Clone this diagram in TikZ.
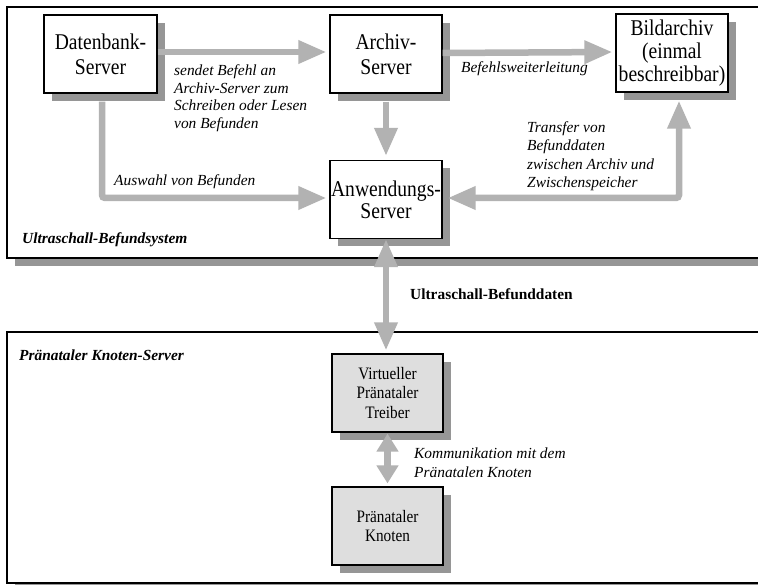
\documentclass[tikz,border=0pt]{standalone}
\usepackage{fontspec}
\setmainfont{Liberation Serif}
\newfontfamily\nodefont[FakeStretch=0.87]{Liberation Serif}
\usetikzlibrary{arrows.meta,shadows}
\definecolor{arrowgray}{RGB}{178,178,178}
\definecolor{shadowgray}{RGB}{150,150,150}
\definecolor{boxfill}{RGB}{222,222,222}
\begin{document}
\begin{tikzpicture}[x=1pt,y=-1pt,
  shd/.style={drop shadow={shadow xshift=8pt, shadow yshift=-8pt, fill=shadowgray, opacity=1}},
  container/.style={draw=black, line width=1.3pt, fill=white, shd, minimum width=768pt, minimum height=251pt, inner sep=0pt},
  box/.style={draw=black, line width=1.2pt, fill=white, shd, minimum width=113pt, minimum height=78pt, inner sep=0pt, align=center, font=\nodefont\fontsize{22.5}{25}\selectfont},
  smallbox/.style={box, fill=boxfill, minimum width=111pt, font=\nodefont\fontsize{17.5}{19.5}\selectfont},
  lbl/.style={anchor=west, inner sep=0pt, align=left, font=\itshape\fontsize{15.4}{17.5}\selectfont},
  blbl/.style={anchor=west, inner sep=0pt, align=left, font=\bfseries\itshape\fontsize{15.4}{17.5}\selectfont},
  big/.style={draw=arrowgray, line width=6.5pt, rounded corners=3pt, -{Triangle[length=28pt,width=22pt]}},
  bigboth/.style={draw=arrowgray, line width=6.5pt, rounded corners=3pt, {Triangle[length=28pt,width=22pt]}-{Triangle[length=28pt,width=22pt]}},
  smallboth/.style={draw=arrowgray, line width=6.5pt, {Triangle[length=18pt,width=21pt]}-{Triangle[length=18pt,width=21pt]}}
]
\clip (0,0) rectangle (758,585);
\useasboundingbox (0,0) rectangle (758,585);

% containers
\node[container] (sys) at (391,132.5) {};
\node[container] (pns) at (391,457.5) {};

% nodes
\node[box] (db) at (100.5,54) {Datenbank-\\Server};
\node[box, minimum width=112pt] (ar) at (386,54) {Archiv-\\Server};
\node[box, minimum width=112pt, font=\nodefont\fontsize{22.5}{23}\selectfont] (bild) at (672,53) {Bildarchiv\\(einmal\\beschreibbar)};
\node[box, minimum width=112pt, font=\nodefont\fontsize{22.5}{22}\selectfont] (anw) at (386,199.5) {Anwendungs-\\Server};
\node[smallbox] (drv) at (387.5,393) {Virtueller\\Pränataler\\Treiber};
\node[smallbox] (kn) at (387.5,526) {Pränataler\\Knoten};

% connectors
\draw[big, shorten >=3pt] ([yshift=2pt]db.east) -- ([yshift=2pt]ar.west);
\draw[big, shorten >=3pt] ([yshift=1pt]ar.east) -- ([yshift=1pt]bild.west);
\draw[big, shorten >=4pt] ([yshift=-8pt]ar.south) -- (anw.north);
\draw[big, shorten >=3pt] ([xshift=1.5pt,yshift=-8pt]db.south) |- ([yshift=1.5pt]anw.west);
\draw[bigboth, shorten <=5pt, shorten >=8pt] ([yshift=1.5pt]anw.east) -| ([xshift=7pt]bild.south);
\draw[bigboth, shorten >=3pt] (anw.south) -- ([xshift=-1.5pt]drv.north);
\draw[smallboth, shorten <=1pt, shorten >=3pt] (drv.south) -- (kn.north);

% labels
\node[lbl] (l1) at (174,98) {sendet Befehl an\\Archiv-Server zum\\Schreiben oder Lesen\\von Befunden};
\node[lbl] (l2) at (114,182) {Auswahl von Befunden};
\node[blbl] (l3) at (22,240) {Ultraschall-Befundsystem};
\node[lbl] (l4) at (461,69) {Befehlsweiterleitung};
\node[lbl, font=\itshape\fontsize{15.4}{18.5}\selectfont] (l5) at (527,156) {Transfer von\\Befunddaten\\zwischen Archiv und\\Zwischenspeicher};
\node[anchor=west, inner sep=0pt, font=\bfseries\fontsize{15.4}{17.5}\selectfont] (l6) at (410,294) {Ultraschall-Befunddaten};
\node[blbl] (l7) at (19,355) {Pränataler Knoten-Server};
\node[lbl, font=\itshape\fontsize{15.4}{19}\selectfont] (l8) at (414,462.5) {Kommunikation mit dem\\Pränatalen Knoten};
\end{tikzpicture}
\end{document}
